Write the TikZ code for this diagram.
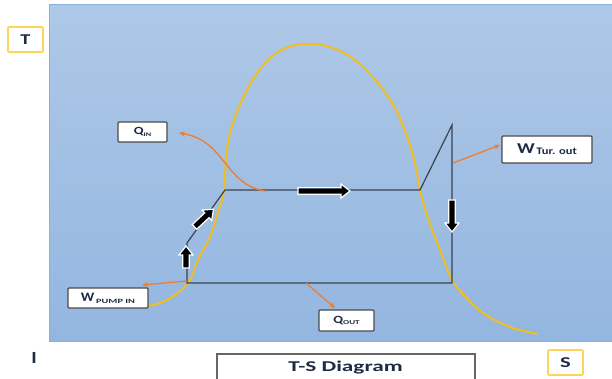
\documentclass[tikz,border=0pt]{standalone}
\usepackage{fontspec}
\usepackage{graphicx}
\setmainfont{Carlito}
\usetikzlibrary{arrows.meta}
\definecolor{panelTop}{HTML}{AEC8E7}
\definecolor{panelBot}{HTML}{93B6E0}
\definecolor{panelEdge}{HTML}{8DB0DA}
\definecolor{domeY}{HTML}{F0BE1E}
\definecolor{cycleLine}{HTML}{3A4250}
\definecolor{heatO}{HTML}{ED7D31}
\definecolor{axisBox}{HTML}{FFD45C}
\definecolor{labelEdge}{HTML}{4A4A4A}
\definecolor{txt}{HTML}{1F2A44}
\newcommand\flowArrow[4]{%
  \begin{scope}[shift={(#1,#2)}, rotate=#3]
    \filldraw[fill=black, draw=white, line width=1.2pt, line join=miter]
      (-#4/2,-3.2) -- (#4/2-9,-3.2) -- (#4/2-9,-7) -- (#4/2,0) -- (#4/2-9,7)
      -- (#4/2-9,3.2) -- (-#4/2,3.2) -- cycle;
  \end{scope}}
\newcommand\wx[3]{\scalebox{#1}[1]{\fontsize{#2}{#2}\selectfont #3}}
\begin{document}
\begin{tikzpicture}[x=1pt,y=-1pt,
  labelbox/.style={draw=labelEdge, line width=1.1pt, fill=white, rounded corners=1pt,
    inner sep=0pt, font=\bfseries\color{txt}},
  axisbox/.style={draw=axisBox, line width=1.6pt, fill=white, rounded corners=1pt,
    inner sep=0pt, minimum width=35pt, minimum height=25pt,
    font=\bfseries\color{txt}},
  heat/.style={draw=heatO, line width=1.3pt, -{Stealth[length=6pt,width=5pt]}},
  cyc/.style={draw=cycleLine, line width=1.2pt},
  dome/.style={draw=domeY, line width=2pt},
]
\useasboundingbox (0,0) rectangle (612,379);
\clip (0,0) rectangle (612,379);
\fill[white] (0,0) rectangle (612,379);
% panel
\shade[top color=panelTop, bottom color=panelBot, draw=panelEdge, line width=1pt]
  (49,5) rectangle (614,341);

% dome
\draw[dome] plot[smooth, tension=0.6] coordinates {(148,306) (167,300) (188,283) (198,260)
  (210,237) (218,212) (224,190) (226,160) (230,133) (242,100) (258,72) (278,52)
  (302,44) (330,47) (355,60) (378,83) (396,110) (409,142) (416,168)
  (420,190) (428,218) (440,250) (452,280) (465,296) (483,313) (510,327) (538,334)};

% cycle
\coordinate (a) at (187,283);
\coordinate (b) at (452,283);
\coordinate (c) at (452,125);
\coordinate (d) at (420,190);
\coordinate (e) at (225,190);
\coordinate (f) at (187,243);
\draw[cyc] (a) -- (b) -- (c) -- (d) -- (e) -- (f) -- cycle;

% flow arrows
\flowArrow{186}{257}{90}{22}
\flowArrow{204}{218}{43}{26}
\flowArrow{324}{191}{0}{52}
\flowArrow{452}{216}{-90}{32}

% labels
\node[labelbox, minimum width=49pt, minimum height=20pt] (qin) at (142.5,132)
  {\wx{1.3}{11}{Q}\raisebox{-1.5pt}{\wx{1.5}{5.5}{IN}}};
\node[labelbox, minimum width=80pt, minimum height=20pt] (wpump) at (108,298)
  {\wx{1.15}{13}{W}\,\raisebox{-2pt}{\wx{1.6}{6.5}{PUMP IN}}};
\node[labelbox, minimum width=55pt, minimum height=21pt] (qout) at (346.5,320.5)
  {\wx{1.3}{11}{Q}\raisebox{-1.5pt}{\wx{1.5}{6}{OUT}}};
\node[labelbox, minimum width=90pt, minimum height=27pt] (wtur) at (547,149.5)
  {\wx{1.3}{15}{W}\,\raisebox{-1pt}{\wx{1.25}{10}{Tur. out}}};

% heat / work arrows
\coordinate (qinStart) at (265,191);
\coordinate (qinEnd) at (179,133);
\draw[heat] (qinStart) .. controls (225,185) and (225,140) .. (qinEnd);
\coordinate (wpStart) at (187,281);
\coordinate (wpEnd) at (142,285);
\draw[heat] (wpStart) -- (wpEnd);
\coordinate (qoStart) at (306,283);
\coordinate (qoEnd) at (335,308);
\draw[heat] (qoStart) -- (qoEnd);
\coordinate (wtStart) at (453,163);
\coordinate (wtEnd) at (500,145);
\draw[heat] (wtStart) -- (wtEnd);

% axes labels
\node[axisbox] (T) at (25.5,39.5) {\wx{1.35}{15}{T}};
\node[axisbox] (S) at (565.5,362.5) {\wx{1.5}{15}{S}};
\node[font=\bfseries\color{txt}] (I) at (34,358) {\wx{1.2}{17}{I}};

% title box (bottom cut off)
\node[font=\bfseries\color{txt}] (title) at (345.5,367.5) {\wx{1.55}{15}{T-S Diagram}};
\draw[draw=gray!80!black, line width=1.1pt] (217,385) -- (217,354) -- (475,354) -- (475,385);
\end{tikzpicture}
\end{document}
